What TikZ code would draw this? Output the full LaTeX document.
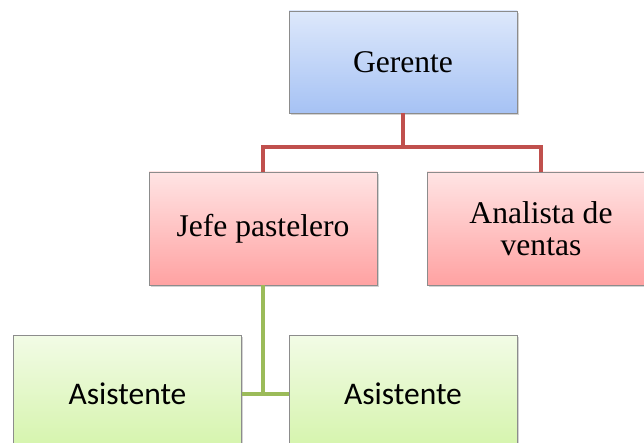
\documentclass[tikz,border=0pt]{standalone}
\usepackage{fontspec}
\setmainfont{Liberation Serif}
\newfontfamily\carlito{Carlito}
\usetikzlibrary{shadows}
\definecolor{bordergray}{HTML}{8C8C8C}
\definecolor{blueTop}{HTML}{DDE8FB}
\definecolor{blueBot}{HTML}{A6C2F4}
\definecolor{redTop}{HTML}{FFE4E4}
\definecolor{redBot}{HTML}{FFA2A2}
\definecolor{greenTop}{HTML}{F2FBE6}
\definecolor{greenBot}{HTML}{D4F4AA}
\definecolor{redLine}{HTML}{C0504D}
\definecolor{greenLine}{HTML}{9BBB59}
\tikzset{
  orgbox/.style={draw=bordergray, line width=0.8pt, minimum width=228pt, inner sep=0pt, outer sep=0pt,
    align=center, font=\fontsize{31.6}{32}\selectfont,
    drop shadow={opacity=0.35, shadow xshift=1.5pt, shadow yshift=-2pt}},
  bluebox/.style={orgbox, minimum height=102pt, top color=blueTop, bottom color=blueBot},
  redbox/.style={orgbox, minimum height=113pt, top color=redTop, bottom color=redBot},
  greenbox/.style={orgbox, minimum height=118pt, top color=greenTop, bottom color=greenBot,
    font=\carlito\fontsize{31.5}{32}\selectfont},
  redlink/.style={draw=redLine, line width=4pt},
  greenlink/.style={draw=greenLine, line width=4pt},
}
\begin{document}
\begin{tikzpicture}[x=1pt, y=-1pt]
\useasboundingbox (0,0) rectangle (644,443);
\clip (0,0) rectangle (644,443);
\node[bluebox] (ger) at (403,62) {Gerente};
\node[redbox] (jefe) at (263,228.5) {Jefe pastelero};
\node[redbox] (ana) at (541,228.5) {Analista de\\ventas};
\node[greenbox] (as1) at (127.5,394) {Asistente};
\node[greenbox] (as2) at (403,394) {Asistente};
\coordinate (bus) at (403,147);
\draw[redlink] (ger.south) -- (bus);
\draw[redlink] (bus) -| (jefe.north);
\draw[redlink] (bus) -| (ana.north);
\coordinate (gj) at (jefe.south |- as1.east);
\draw[greenlink] (jefe.south) -- (gj);
\draw[greenlink] (as1.east) -- (as2.west);
\end{tikzpicture}
\end{document}
